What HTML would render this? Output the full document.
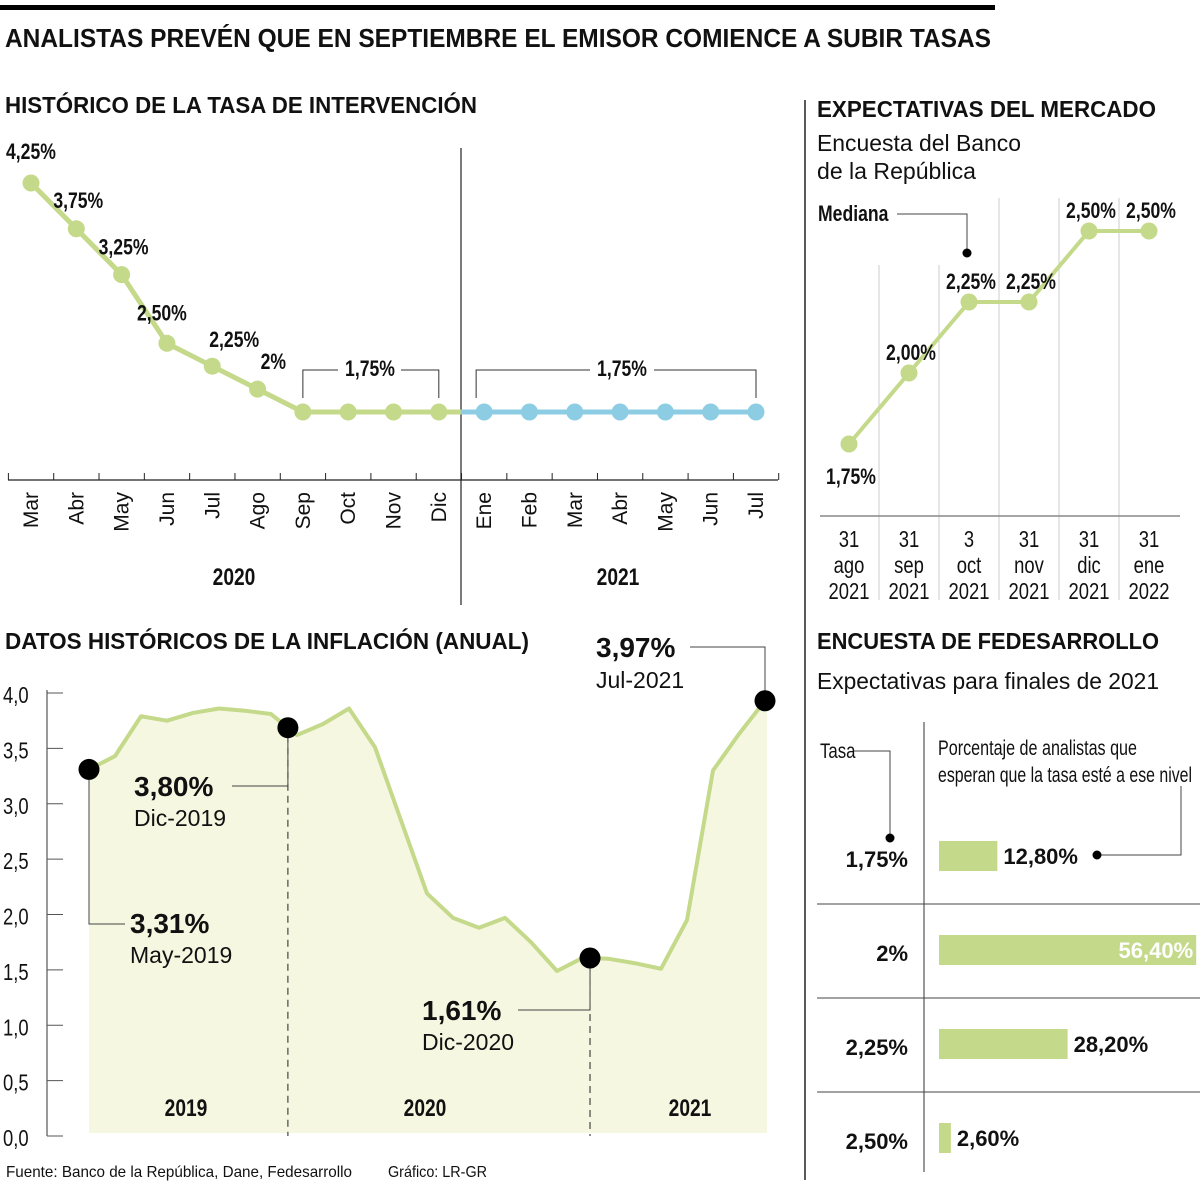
<!DOCTYPE html>
<html><head><meta charset="utf-8">
<style>
html,body{margin:0;padding:0;background:#fff;}
svg{display:block;}
text{font-family:"Liberation Sans Narrow","Liberation Sans",sans-serif;fill:#111;}
.b{font-weight:bold;}
.w{font-family:"Liberation Sans",sans-serif;}
</style></head>
<body>
<svg id="chart" width="1200" height="1182" viewBox="0 0 1200 1182" xmlns="http://www.w3.org/2000/svg">
<rect x="0" y="5" width="995" height="5" fill="#000"/>
<text class="w b" x="5" y="47" font-size="26" textLength="986" lengthAdjust="spacingAndGlyphs">ANALISTAS PREVÉN QUE EN SEPTIEMBRE EL EMISOR COMIENCE A SUBIR TASAS</text>
<text class="w b" x="5" y="113" font-size="23" textLength="472" lengthAdjust="spacingAndGlyphs">HISTÓRICO DE LA TASA DE INTERVENCIÓN</text>
<text class="w b" x="5" y="649" font-size="23" textLength="524" lengthAdjust="spacingAndGlyphs">DATOS HISTÓRICOS DE LA INFLACIÓN (ANUAL)</text>
<text class="w b" x="817" y="117" font-size="23" textLength="339" lengthAdjust="spacingAndGlyphs">EXPECTATIVAS DEL MERCADO</text>
<text class="w" x="817" y="151" font-size="23" textLength="204" lengthAdjust="spacingAndGlyphs">Encuesta del Banco</text>
<text class="w" x="817" y="179" font-size="23" textLength="159" lengthAdjust="spacingAndGlyphs">de la República</text>
<text class="w b" x="817" y="649" font-size="23" textLength="342" lengthAdjust="spacingAndGlyphs">ENCUESTA DE FEDESARROLLO</text>
<text class="w" x="817" y="689" font-size="23" textLength="342" lengthAdjust="spacingAndGlyphs">Expectativas para finales de 2021</text>
<line x1="805" y1="100" x2="805" y2="1180" stroke="#222" stroke-width="1.5"/>
<text x="6" y="1177" font-size="16" textLength="346" lengthAdjust="spacingAndGlyphs">Fuente: Banco de la República, Dane, Fedesarrollo</text>
<text x="388" y="1177" font-size="16" textLength="99" lengthAdjust="spacingAndGlyphs">Gráfico: LR-GR</text>
<g id="g1"></g><g id="g2"></g><g id="g3"></g><g id="g4"></g>
</svg>
<script>
// ---- Chart 1: rate history
const rateMonths = ["Mar","Abr","May","Jun","Jul","Ago","Sep","Oct","Nov","Dic","Ene","Feb","Mar","Abr","May","Jun","Jul"];
const rateValues = [4.25,3.75,3.25,2.50,2.25,2.00,1.75,1.75,1.75,1.75,1.75,1.75,1.75,1.75,1.75,1.75,1.75];
const rateLabels = ["4,25%","3,75%","3,25%","2,50%","2,25%","2%"];
// ---- Chart 2: inflation
const inflMonths = ["May19","Jun19","Jul19","Ago19","Sep19","Oct19","Nov19","Dic19","Ene20","Feb20","Mar20","Abr20","May20","Jun20","Jul20","Ago20","Sep20","Oct20","Nov20","Dic20","Ene21","Feb21","Mar21","Abr21","May21","Jun21","Jul21"];
const inflValues = [3.31,3.43,3.79,3.75,3.82,3.86,3.84,3.81,3.62,3.72,3.86,3.51,2.85,2.19,1.97,1.88,1.97,1.75,1.49,1.61,1.60,1.56,1.51,1.95,3.30,3.63,3.93];
const inflTicks = ["0,0","0,5","1,0","1,5","2,0","2,5","3,0","3,5","4,0"];
const inflMarkerIdx = [0,7.65,19.27,26];
// ---- Chart 3: market expectations
const mktDates = [["31","ago","2021"],["31","sep","2021"],["3","oct","2021"],["31","nov","2021"],["31","dic","2021"],["31","ene","2022"]];
const mktValues = [1.75,2.00,2.25,2.25,2.50,2.50];
const mktLabels = ["1,75%","2,00%","2,25%","2,25%","2,50%","2,50%"];
// ---- Chart 4: Fedesarrollo
const fedRates = ["1,75%","2%","2,25%","2,50%"];
const fedShares = [12.8,56.4,28.2,2.6];
const fedLabels = ["12,80%","56,40%","28,20%","2,60%"];

const NS="http://www.w3.org/2000/svg";
function mk(parent,tag,attrs,name){
  const el=document.createElementNS(NS,tag);
  for(const k in attrs) el.setAttribute(k,attrs[k]);
  
  
  parent.appendChild(el);return el;
}
function tx(parent,x,y,s,size,cls,anchor,name,fill){
  const el=mk(parent,'text',{x:x,y:y,'font-size':size,'text-anchor':anchor||'start'},name);
  if(cls) el.setAttribute('class',cls);
  if(fill) el.style.fill=fill;
  el.textContent=s;
  if(!(cls||'').includes('w')) condense(el,0.8);
  return el;
}
function condense(el,f){
  const w=el.getComputedTextLength();
  if(w>0){el.setAttribute('textLength',(w*f).toFixed(1));el.setAttribute('lengthAdjust','spacingAndGlyphs');}
}
const green="#c4d98a", blue="#8ccde4";

// Chart 1
(function(){
  const g=document.getElementById('g1');
  const x=i=>31+i*45.3125, y=v=>183+(4.25-v)*91.6;
  mk(g,'line',{x1:8,y1:480,x2:778,y2:480,stroke:'#222','stroke-width':1.2},'rate-x-axis');
  for(let i=0;i<=rateMonths.length;i++){
    mk(g,'line',{x1:x(i)-22.6,y1:473,x2:x(i)-22.6,y2:480,stroke:'#222','stroke-width':1},'rate-x-tick');
  }
  mk(g,'line',{x1:461,y1:148,x2:461,y2:605,stroke:'#222','stroke-width':1.2},'year-divider');
  let pg="",pb="";
  rateValues.forEach((v,i)=>{ if(i<=10) pg+=(i?'L':'M')+x(i)+' '+y(v); if(i>=9) pb+=(i>9?'L':'M')+x(i)+' '+y(v);});
  mk(g,'path',{d:pg,fill:'none',stroke:green,'stroke-width':5},'rate-line-2020');
  mk(g,'path',{d:pb.replace(/^M[^L]*L/,'M'+(x(9)+22)+' '+y(rateValues[9])+'L'),fill:'none',stroke:blue,'stroke-width':5},'rate-line-2021');
  rateValues.forEach((v,i)=>{
    mk(g,'circle',{cx:x(i),cy:y(v),r:8.5,fill:i<10?green:blue},'rate-point');
    const lab=mk(g,'text',{x:0,y:0,'font-size':21,'text-anchor':'end',transform:'translate('+(x(i)+7)+',492) rotate(-90)'},'month-label');
    lab.textContent=rateMonths[i];
  });
  const offs=[[ -25,-24],[-23,-21],[-23,-20],[-30,-23],[-3,-19],[3,-20]];
  rateLabels.forEach((s,i)=>{
    tx(g,x(i)+offs[i][0],y(rateValues[i])+offs[i][1],s,22,'b','start','rate-label');
  });
  const by=370, bot=y(1.75)-14;
  mk(g,'path',{d:`M${x(6)} ${bot}V${by}H338M401 ${by}H${x(9)}V${bot}`,fill:'none',stroke:'#333','stroke-width':1},'bracket-2020');
  tx(g,370,376,'1,75%',22,'b','middle','bracket-label-2020');
  mk(g,'path',{d:`M${x(10)-8} ${bot}V${by}H590M654 ${by}H${x(16)}V${bot}`,fill:'none',stroke:'#333','stroke-width':1},'bracket-2021');
  tx(g,622,376,'1,75%',22,'b','middle','bracket-label-2021');
  tx(g,234,585,'2020',24,'b','middle','year-label-2020');
  tx(g,618,585,'2021',24,'b','middle','year-label-2021');
})();

// Chart 2
(function(){
  const g=document.getElementById('g2');
  const x=i=>89+i*26, y=v=>1136-v*110.75;
  const interp=f=>{const a=Math.floor(f),b=Math.min(a+1,inflValues.length-1);return inflValues[a]+(inflValues[b]-inflValues[a])*(f-a);};
  let d='M'+x(0)+' '+y(0)+' ';
  inflValues.forEach((v,i)=>d+='L'+x(i)+' '+y(v)+' ');
  d+='L'+(x(inflValues.length-1)+2)+' '+y(inflValues[inflValues.length-1])+'L'+(x(inflValues.length-1)+2)+' 1133L'+x(0)+' 1133Z';
  mk(g,'path',{d:d,fill:'#f5f7e1'},'inflation-area');
  let l='';inflValues.forEach((v,i)=>l+=(i?'L':'M')+x(i)+' '+y(v));
  mk(g,'path',{d:l,fill:'none',stroke:green,'stroke-width':4,'stroke-linejoin':'round'},'inflation-line');
  mk(g,'line',{x1:47,y1:690,x2:47,y2:1136,stroke:'#333','stroke-width':1},'inflation-y-axis');
  inflTicks.forEach((s,i)=>{
    const yy=y(i*0.5);
    mk(g,'line',{x1:47,y1:yy,x2:63,y2:yy,stroke:'#555','stroke-width':1},'inflation-y-tick');
    tx(g,3,yy+10,s,23,'','start','inflation-y-label');
  });
  [1,2].forEach(k=>{const f=inflMarkerIdx[k];const xx=x(f);mk(g,'line',{x1:xx,y1:y(interp(f))+8,x2:xx,y2:1136,stroke:'#222','stroke-width':1,'stroke-dasharray':'7,5'},'year-separator');});
  tx(g,186,1116,'2019',24,'b','middle','year-label-2019');
  tx(g,425,1116,'2020',24,'b','middle','year-label-2020b');
  tx(g,690,1116,'2021',24,'b','middle','year-label-2021b');
  const m=inflMarkerIdx.map(f=>[x(f),y(interp(f))]);
  mk(g,'path',{d:`M${m[0][0]} ${m[0][1]}V924H125`,fill:'none',stroke:'#444','stroke-width':1},'callout-may19');
  mk(g,'path',{d:`M${m[1][0]} ${m[1][1]}V786H232`,fill:'none',stroke:'#444','stroke-width':1},'callout-dic19');
  mk(g,'path',{d:`M${m[2][0]} ${m[2][1]}V1010H518`,fill:'none',stroke:'#444','stroke-width':1},'callout-dic20');
  mk(g,'path',{d:`M${m[3][0]} ${m[3][1]}V647H690`,fill:'none',stroke:'#444','stroke-width':1},'callout-jul21');
  m.forEach(p=>mk(g,'circle',{cx:p[0],cy:p[1],r:10.5,fill:'#000'},'inflation-marker'));
  tx(g,130,933,'3,31%',28,'w b','start','label-may19-value');
  tx(g,130,963,'May-2019',23,'w','start','label-may19-date');
  tx(g,134,796,'3,80%',28,'w b','start','label-dic19-value');
  tx(g,134,826,'Dic-2019',23,'w','start','label-dic19-date');
  tx(g,422,1020,'1,61%',28,'w b','start','label-dic20-value');
  tx(g,422,1050,'Dic-2020',23,'w','start','label-dic20-date');
  tx(g,596,657,'3,97%',28,'w b','start','label-jul21-value');
  tx(g,596,688,'Jul-2021',23,'w','start','label-jul21-date');
})();

// Chart 3
(function(){
  const g=document.getElementById('g3');
  const x=i=>849+i*60, y=v=>444-(v-1.75)*284;
  for(let i=1;i<mktValues.length;i++){
    mk(g,'line',{x1:x(i)-30,y1:i>=3?198:265,x2:x(i)-30,y2:600,stroke:'#ccc','stroke-width':1},'market-gridline');
  }
  mk(g,'line',{x1:820,y1:516,x2:1180,y2:516,stroke:'#888','stroke-width':1.5},'market-x-axis');
  let l='';mktValues.forEach((v,i)=>l+=(i?'L':'M')+x(i)+' '+y(v));
  mk(g,'path',{d:l,fill:'none',stroke:green,'stroke-width':4},'market-line');
  mktValues.forEach((v,i)=>{
    mk(g,'circle',{cx:x(i),cy:y(v),r:8.5,fill:green},'market-point');
    const dy=i==0?33:-20;
    tx(g,x(i)+2,y(v)+dy+7,mktLabels[i],22,'b','middle','market-value-label');
    mktDates[i].forEach((s,k)=>tx(g,x(i),547+k*26,s,23,'','middle','market-date-label'));
  });
  tx(g,818,221,'Mediana',22,'b','start','median-label');
  mk(g,'path',{d:'M897 214H967V252',fill:'none',stroke:'#444','stroke-width':1},'median-leader');
  mk(g,'circle',{cx:967,cy:253,r:4.5,fill:'#000'},'median-dot');
})();

// Chart 4
(function(){
  const g=document.getElementById('g4');
  const x=v=>939+v*4.56, rowY=i=>856+i*94;
  mk(g,'line',{x1:924,y1:722,x2:924,y2:1172,stroke:'#333','stroke-width':1},'fed-vertical-rule');
  for(let i=1;i<fedShares.length;i++){
    mk(g,'line',{x1:817,y1:rowY(i)-46,x2:1200,y2:rowY(i)-46,stroke:'#444','stroke-width':1},'fed-row-rule');
  }
  tx(g,820,758,'Tasa',21,'','start','tasa-header');
  mk(g,'path',{d:'M854 751H890V836',fill:'none',stroke:'#444','stroke-width':1},'tasa-leader');
  mk(g,'circle',{cx:890,cy:838,r:4.5,fill:'#000'},'tasa-dot');
  const h1=tx(g,938,755,'Porcentaje de analistas que',21,'','start','share-header-1');
  h1.setAttribute('textLength','199');
  const h2=tx(g,938,782,'esperan que la tasa esté a ese nivel',21,'','start','share-header-2');
  h2.setAttribute('textLength','254');
  fedShares.forEach((v,i)=>{
    const cy=rowY(i);
    mk(g,'rect',{x:939,y:cy-15,width:x(v)-939,height:30,fill:green},'fed-bar');
    tx(g,908,cy+11,fedRates[i],22,'w b','end','fed-rate-label');
    if(v>40) tx(g,x(v)-3,cy+8,fedLabels[i],22,'w b','end','fed-share-label','#fff');
    else tx(g,x(v)+6,cy+8,fedLabels[i],22,'w b','start','fed-share-label');
  });
  mk(g,'path',{d:'M1097 855H1181V786',fill:'none',stroke:'#444','stroke-width':1},'share-leader');
  mk(g,'circle',{cx:1097,cy:855,r:4.5,fill:'#000'},'share-dot');
})();
</script>
</body></html>
